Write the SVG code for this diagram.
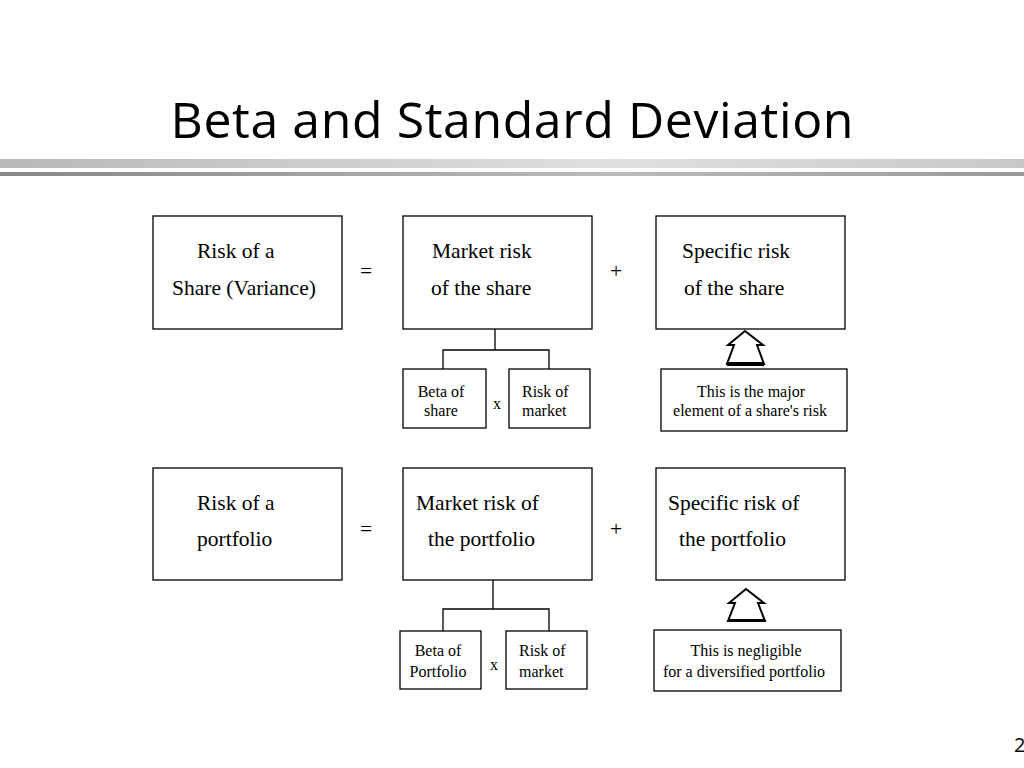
<svg xmlns="http://www.w3.org/2000/svg" width="1024" height="768" viewBox="0 0 1024 768">
<defs>
<linearGradient id="g1" x1="0" x2="1"><stop offset="0" stop-color="#b8b8b8"/><stop offset="0.6" stop-color="#e0e0e0"/><stop offset="1" stop-color="#c8c8c8"/></linearGradient>
<linearGradient id="g2" x1="0" x2="1"><stop offset="0" stop-color="#888"/><stop offset="0.6" stop-color="#bbb"/><stop offset="1" stop-color="#999"/></linearGradient>
</defs>
<style>
.b{fill:#fff;stroke:#000;stroke-width:1.3}
.t{font-family:"Liberation Serif",serif;font-size:21.5px;fill:#000}
.s{font-family:"Liberation Serif",serif;font-size:16px;fill:#000}
.ln{fill:none;stroke:#000;stroke-width:1.3}
.ar{fill:#fff;stroke:#000;stroke-width:2}
</style>
<rect width="1024" height="768" fill="#fff"/>
<text x="512" y="138" text-anchor="middle" font-family="'Open Sans','DejaVu Sans',sans-serif" font-size="50" textLength="683" fill="#000">Beta and Standard Deviation</text>
<rect x="0" y="159" width="1024" height="9" fill="url(#g1)"/>
<rect x="0" y="172" width="1024" height="4" fill="url(#g2)"/>
<text x="1014" y="752" font-family="'Open Sans',sans-serif" font-size="20" fill="#000">2</text>
<g id="n1"><rect class="b" x="153" y="216" width="189" height="113"/><text class="t" x="197" y="258">Risk of a</text><text class="t" x="172" y="295">Share (Variance)</text></g>
<g id="n2"><rect class="b" x="403" y="216" width="189" height="113"/><text class="t" x="432" y="258">Market risk</text><text class="t" x="431" y="295">of the share</text></g>
<g id="n3"><rect class="b" x="656" y="216" width="189" height="113"/><text class="t" x="682" y="258">Specific risk</text><text class="t" x="684" y="295">of the share</text></g>
<text class="t" x="360" y="278" font-size="24">=</text><text class="t" x="610" y="278" font-size="24">+</text>
<g id="n4"><rect class="b" x="403" y="369" width="83" height="59"/><text class="s" x="441" y="397" text-anchor="middle">Beta of</text><text class="s" x="441" y="416" text-anchor="middle">share</text></g>
<g id="n5"><rect class="b" x="509" y="369" width="81" height="59"/><text class="s" x="522" y="397">Risk of</text><text class="s" x="522" y="416">market</text></g>
<text class="s" x="493" y="409">x</text>
<g id="n6"><rect class="b" x="661" y="369" width="186" height="62"/><text class="s" x="751" y="397" text-anchor="middle">This is the major</text><text class="s" x="750" y="416" text-anchor="middle">element of a share's risk</text></g>
<g id="n7"><rect class="b" x="153" y="468" width="189" height="112"/><text class="t" x="197" y="510">Risk of a</text><text class="t" x="197" y="546">portfolio</text></g>
<g id="n8"><rect class="b" x="403" y="468" width="189" height="112"/><text class="t" x="416" y="510">Market risk of</text><text class="t" x="428" y="546">the portfolio</text></g>
<g id="n9"><rect class="b" x="656" y="468" width="189" height="112"/><text class="t" x="668" y="510">Specific risk of</text><text class="t" x="679" y="546">the portfolio</text></g>
<text class="t" x="360" y="536" font-size="24">=</text><text class="t" x="610" y="536" font-size="24">+</text>
<g id="n10"><rect class="b" x="400" y="631" width="81" height="58"/><text class="s" x="438" y="656" text-anchor="middle">Beta of</text><text class="s" x="438" y="677" text-anchor="middle">Portfolio</text></g>
<g id="n11"><rect class="b" x="506" y="631" width="81" height="58"/><text class="s" x="519" y="656">Risk of</text><text class="s" x="519" y="677">market</text></g>
<text class="s" x="490" y="670">x</text>
<g id="n12"><rect class="b" x="654" y="630" width="187" height="61"/><text class="s" x="746" y="656" text-anchor="middle">This is negligible</text><text class="s" x="744" y="677" text-anchor="middle">for a diversified portfolio</text></g>
<g id="connectors">
<path class="ln" d="M495 329V350M443 369V350H549V369"/>
<path class="ln" d="M493 580V609M443 631V609H549V631"/>
<path class="ar" d="M745 331L728 345H734L727 364H764L757 345H763Z"/>
<rect x="727" y="362" width="37" height="4" fill="#000"/>
<path class="ar" d="M746 589L729 603H735L728 621H765L758 603H764Z"/>
<rect x="728" y="619" width="37" height="3" fill="#000"/>
</g>
</svg>
